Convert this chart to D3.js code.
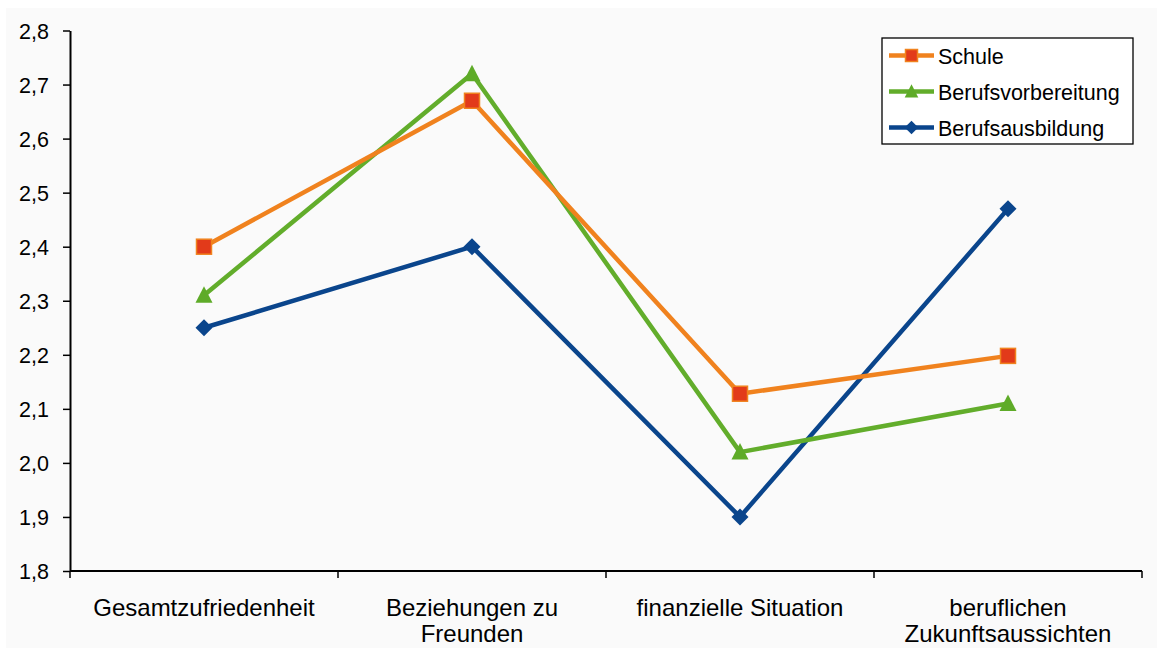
<!DOCTYPE html>
<html>
<head>
<meta charset="utf-8">
<script src="https://d3js.org/d3.v7.min.js"></script>
<style>
  body { margin:0; background:#ffffff; }
  svg { display:block; font-family:"Liberation Sans", Arial, sans-serif; }
</style>
</head>
<body>
<script>
  const categories = [["Gesamtzufriedenheit"], ["Beziehungen zu", "Freunden"], ["finanzielle Situation"], ["beruflichen", "Zukunftsaussichten"]];
  const seriesNames = ["Schule", "Berufsvorbereitung", "Berufsausbildung"];
  const schule = [2.40, 2.67, 2.128, 2.198];
  const berufsvorbereitung = [2.31, 2.72, 2.02, 2.11];
  const berufsausbildung = [2.25, 2.40, 1.90, 2.47];
  const yTicks = [1.8, 1.9, 2.0, 2.1, 2.2, 2.3, 2.4, 2.5, 2.6, 2.7, 2.8];

  const w = 1157, h = 648;
  const padL = 70, padR = 1142, padT = 30.5, padB = 571;

  const series = [
    {name: seriesNames[0], values: schule, line: "#f0821e", fill: "#e23a1a", stroke: "#f0821e", shape: "square"},
    {name: seriesNames[1], values: berufsvorbereitung, line: "#62ad2b", fill: "#5eab28", stroke: "#5eab28", shape: "triangle"},
    {name: seriesNames[2], values: berufsausbildung, line: "#0a458c", fill: "#0a458c", stroke: "#0a458c", shape: "diamond"}
  ];

  const svg = d3.select("body").append("svg").attr("width", w).attr("height", h);
  svg.append("rect").attr("x", 6).attr("y", 8).attr("width", w - 6).attr("height", h - 8).attr("fill", "#fafafa");

  const x = d3.scaleBand().domain(d3.range(categories.length)).range([padL, padR]);
  const y = d3.scaleLinear().domain([1.8, 2.8]).range([padB, padT]);

  // y axis
  const yAxis = d3.axisLeft(y).tickValues(yTicks).tickSize(7).tickSizeOuter(0)
    .tickFormat(d => d3.format(".1f")(d).replace(".", ","));
  const gy = svg.append("g").attr("transform", `translate(${padL},0)`).call(yAxis);
  gy.attr("font-family", "Liberation Sans, Arial, sans-serif").attr("font-size", 21.5);
  gy.select(".domain").attr("stroke", "#000").attr("stroke-width", 2);
  gy.selectAll(".tick line").attr("stroke", "#000").attr("stroke-width", 1.5);
  gy.selectAll(".tick text").attr("fill", "#000").attr("x", -21).attr("dy", "0.36em");

  // x axis line + ticks at category boundaries
  const gx = svg.append("g");
  gx.append("line").attr("x1", padL).attr("x2", padR).attr("y1", padB).attr("y2", padB)
    .attr("stroke", "#000").attr("stroke-width", 2);
  const bounds = d3.range(categories.length + 1).map(i => padL + i * x.bandwidth());
  gx.selectAll(".xt").data(bounds).enter().append("line")
    .attr("x1", d => d).attr("x2", d => d).attr("y1", padB).attr("y2", padB + 7)
    .attr("stroke", "#000").attr("stroke-width", 1.5);
  const lbl = gx.selectAll(".xl").data(categories).enter().append("text")
    .attr("text-anchor", "middle").attr("font-size", 24).attr("fill", "#000");
  lbl.each(function(d, i) {
    const t = d3.select(this);
    d.forEach((s, j) => {
      t.append("tspan").attr("x", x(i) + x.bandwidth() / 2).attr("y", 616 + j * 26).text(s);
    });
  });

  const cx = i => x(i) + x.bandwidth() / 2;
  const line = d3.line().x((d, i) => cx(i)).y(d => y(d));

  function marker(g, shape, s, k) {
    if (shape === "square") {
      const a = 7.5 * k;
      g.append("rect").attr("x", -a).attr("y", -a).attr("width", 2 * a).attr("height", 2 * a)
        .attr("fill", s.fill).attr("stroke", s.stroke).attr("stroke-width", 1.5);
    } else if (shape === "triangle") {
      g.append("path").attr("d", `M0,${-9 * k} L${8.5 * k},${7.5 * k} L${-8.5 * k},${7.5 * k} Z`).attr("fill", s.fill);
    } else {
      g.append("path").attr("d", `M0,${-8.5 * k} L${8.5 * k},0 L0,${8.5 * k} L${-8.5 * k},0 Z`).attr("fill", s.fill);
    }
  }

  series.slice().reverse().forEach(s => {
    svg.append("path").datum(s.values).attr("d", line)
      .attr("fill", "none").attr("stroke", s.line).attr("stroke-width", 4.5).attr("stroke-linejoin", "round");
  });
  series.slice().reverse().forEach(s => {
    svg.append("g").selectAll("g").data(s.values).enter().append("g")
      .attr("transform", (d, i) => `translate(${cx(i)},${y(d)})`)
      .each(function() { marker(d3.select(this), s.shape, s, 1); });
  });

  // legend
  const lg = svg.append("g");
  lg.append("rect").attr("x", 882).attr("y", 38).attr("width", 251).attr("height", 106)
    .attr("fill", "#ffffff").attr("stroke", "#000").attr("stroke-width", 1.3);
  series.forEach((s, i) => {
    const yy = 55.5 + i * 36;
    const g = lg.append("g");
    g.append("line").attr("x1", 889).attr("x2", 934).attr("y1", yy).attr("y2", yy)
      .attr("stroke", s.line).attr("stroke-width", 4.5);
    const m = g.append("g").attr("transform", `translate(911.5,${yy})`);
    marker(m, s.shape, s, 0.8);
    g.append("text").attr("x", 938).attr("y", yy + 8).attr("font-size", 21.5).attr("fill", "#000").text(s.name);
  });
</script>
</body>
</html>
